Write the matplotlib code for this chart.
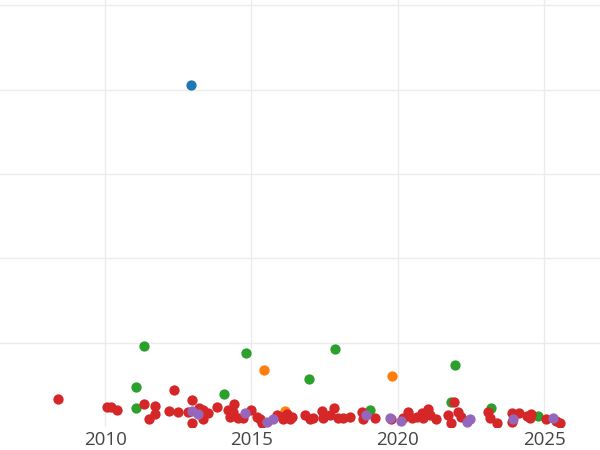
import matplotlib
matplotlib.use("Agg")
import matplotlib.pyplot as plt

# series (year, value)
blue_x = [2012.94]
blue_y = [81.1]

orange_x = [2015.43, 2019.81, 2016.15]
orange_y = [13.6, 12.2, 3.9]

green_x = [2011.33, 2014.82, 2017.86, 2021.96, 2016.97, 2011.06, 2014.07,
           2011.06, 2019.06, 2021.82, 2023.19, 2024.80]
green_y = [19.3, 17.6, 18.6, 14.8, 11.5, 9.6, 7.9, 4.6, 4.1, 6.0, 4.6, 2.7]

red_x = [2008.39, 2010.07, 2010.21, 2010.41, 2011.33, 2011.71, 2011.71, 2011.50,
         2012.36, 2012.19, 2012.49, 2012.97, 2012.84, 2013.21, 2013.35, 2013.52,
         2012.97, 2013.35, 2013.83, 2014.20, 2014.41, 2014.27, 2014.37, 2014.54,
         2014.72, 2014.99, 2015.19, 2015.30, 2015.36, 2015.88, 2016.05, 2016.22,
         2016.39, 2016.08, 2016.32, 2016.83, 2017.00, 2017.11, 2017.41, 2017.45,
         2017.69, 2017.83, 2017.97, 2018.13, 2018.37, 2018.78, 2018.82, 2019.23,
         2019.77, 2020.18, 2020.35, 2020.49, 2020.66, 2020.83, 2020.87, 2021.04,
         2021.11, 2021.31, 2021.93, 2021.72, 2022.06, 2022.16, 2021.82, 2023.09,
         2023.16, 2023.39, 2023.91, 2024.15, 2023.91, 2024.42, 2024.56, 2024.52,
         2025.07, 2025.41, 2025.55]
red_y = [6.7, 4.8, 4.8, 4.1, 5.5, 5.1, 3.2, 1.8,
         8.9, 3.9, 3.6, 6.3, 3.6, 4.6, 4.1, 3.4,
         1.0, 1.8, 4.8, 4.1, 5.5, 2.5, 3.6, 2.2,
         2.2, 4.1, 2.5, 1.8, 1.0, 2.9, 2.5, 3.2,
         2.5, 1.8, 1.8, 2.9, 1.8, 2.2, 3.9, 2.2,
         2.9, 4.6, 2.2, 2.2, 2.5, 3.6, 1.8, 2.2,
         1.8, 2.2, 3.6, 2.2, 2.5, 3.4, 2.2, 4.4,
         2.9, 1.8, 6.0, 2.9, 3.6, 2.5, 1.0, 3.6,
         2.2, 1.0, 3.4, 3.4, 1.3, 2.7, 3.2, 2.2,
         2.0, 1.5, 1.0]

purple_x = [2012.97, 2013.18, 2014.78, 2015.54, 2015.74, 2018.92, 2019.74,
            2020.11, 2022.37, 2022.47, 2023.94, 2025.31]
purple_y = [3.9, 3.2, 3.4, 1.3, 1.8, 2.9, 2.2, 1.5, 1.3, 1.8, 1.8, 2.2]

year_ticks = [2010, 2015, 2020, 2025]
value_ticks = [20, 40, 60, 80, 100]

fig = plt.figure(figsize=(6, 4.5), dpi=100)
ax = fig.add_axes([0, 0.051, 1, 0.949])

series = [
    (blue_x, blue_y, "#1f77b4"),
    (orange_x, orange_y, "#ff7f0e"),
    (green_x, green_y, "#2ca02c"),
    (red_x, red_y, "#d62728"),
    (purple_x, purple_y, "#9467bd"),
]
for xs, ys, c in series:
    ax.scatter(xs, ys, s=55, color=c, linewidths=0, zorder=3)

ax.set_xlim(2006.41, 2026.91)
ax.set_ylim(0, 101.3)
ax.set_xticks(year_ticks)
ax.set_xticklabels([str(t) for t in year_ticks])
ax.set_yticks(value_ticks)
ax.set_yticklabels([])
ax.grid(True, color="#ebebeb", linewidth=1.0, zorder=0)
ax.set_axisbelow(True)
for sp in ax.spines.values():
    sp.set_visible(False)
ax.tick_params(axis="both", length=0)
ax.tick_params(axis="x", pad=3, labelsize=13.5, labelcolor="#444444")
for lab in ax.get_xticklabels():
    lab.set_fontfamily("Open Sans")

fig.savefig("out.png", dpi=100)
